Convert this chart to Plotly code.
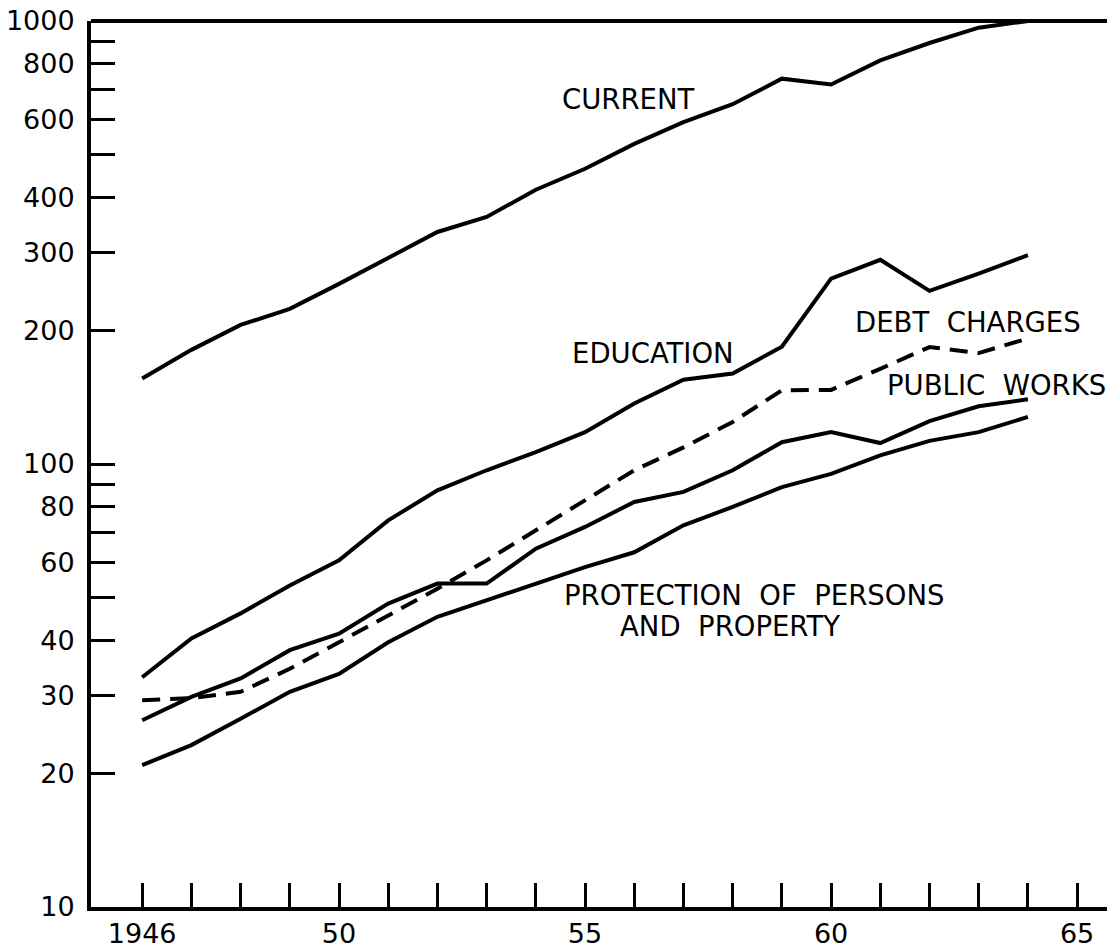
import plotly.graph_objects as go

years = list(range(1946, 1965))
current = [156, 181, 206, 224, 255, 291, 334, 361, 416, 464, 528, 591, 649, 741, 719, 815, 892, 966, 1000]
education = [33.0, 40.4, 46.0, 53.2, 60.6, 74.6, 87.2, 96.8, 106.4, 118, 137, 155, 160, 184, 262, 289, 246, 269, 296]
debt_charges = [29.3, 29.6, 30.6, 34.5, 39.6, 45.5, 52.3, 60.6, 70.8, 82.8, 96.8, 109, 124.4, 146.7, 147, 164, 183.6, 178, 192]
public_works = [26.4, 29.8, 32.8, 38.0, 41.4, 48.4, 53.7, 53.7, 64.4, 72.1, 82.1, 86.5, 96.8, 112, 118, 111.5, 125, 135, 140]
protection = [20.9, 23.2, 26.6, 30.6, 33.6, 39.6, 45.2, 49.2, 53.7, 58.5, 63.2, 72.7, 80, 88.7, 95, 104.6, 112.8, 118, 127.7]

x_tick_vals = list(range(1946, 1966))
x_tick_text = ["1946" if y == 1946 else (str(y)[2:] if y % 5 == 0 else "") for y in x_tick_vals]

y_tick_vals = [10, 20, 30, 40, 50, 60, 70, 80, 90, 100, 200, 300, 400, 500, 600, 700, 800, 900, 1000]
y_labeled = {10, 20, 30, 40, 60, 80, 100, 200, 300, 400, 600, 800, 1000}
y_tick_text = [str(v) if v in y_labeled else "" for v in y_tick_vals]

FONT = "DejaVu Sans"

fig = go.Figure()
line = dict(color="black", width=4)
for name, vals in [("Current", current), ("Education", education),
                   ("Public works", public_works), ("Protection", protection)]:
    fig.add_trace(go.Scatter(x=years, y=vals, mode="lines", name=name, line=line))
fig.add_trace(go.Scatter(x=years, y=debt_charges, mode="lines", name="Debt charges",
                         line=dict(color="black", width=4, dash="18px,10px")))

labels = [
    ("CURRENT", 1954.5, 2.823, 27.5),
    ("EDUCATION", 1954.7, 2.250, 27.5),
    ("DEBT  CHARGES", 1960.45, 2.320, 27.5),
    ("PUBLIC  WORKS", 1961.1, 2.1776, 27.5),
    ("PROTECTION  OF  PERSONS", 1954.54, 1.7036, 27.5),
    ("AND  PROPERTY", 1955.67, 1.6336, 27.5),
]
for text, x, ly, sz in labels:
    fig.add_annotation(x=x, y=ly, xref="x", yref="y", text=text, showarrow=False,
                       xanchor="left", yanchor="middle",
                       font=dict(family=FONT, size=sz, color="black"))

fig.add_shape(type="line", xref="paper", yref="paper", x0=0, x1=1, y0=1, y1=1,
              line=dict(color="black", width=4))

fig.update_layout(
    width=1107, height=941,
    margin=dict(l=83, r=0, t=13, b=42),
    paper_bgcolor="white", plot_bgcolor="white",
    showlegend=False,
    font=dict(family=FONT, color="black"),
    xaxis=dict(range=[1944.96, 1965.77], tickmode="array", tickvals=x_tick_vals,
               ticktext=x_tick_text, ticks="inside", ticklen=24, tickwidth=3,
               tickcolor="black", showline=True, linewidth=4, linecolor="black",
               showgrid=False, zeroline=False, automargin=False,
               ticklabeloverflow="allow",
               tickfont=dict(size=27, family=FONT)),
    yaxis=dict(type="log", range=[1, 3], tickmode="array", tickvals=y_tick_vals,
               ticktext=y_tick_text, ticks="inside", ticklen=24, tickwidth=3,
               tickcolor="black", showline=True, linewidth=4, linecolor="black",
               showgrid=False, zeroline=False, automargin=False,
               ticklabelstandoff=7, ticklabeloverflow="allow",
               tickfont=dict(size=27, family=FONT)),
)

fig.write_html("out.html")
